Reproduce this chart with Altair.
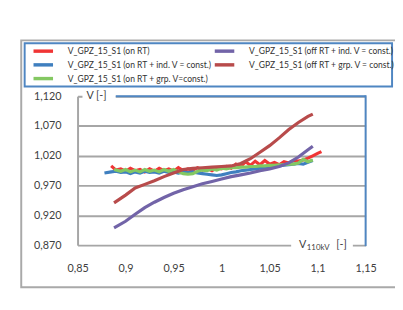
import altair as alt
import pandas as pd

series_names = [
    "V_GPZ_15_S1 (on RT)",
    "V_GPZ_15_S1 (on RT + ind. V = const.)",
    "V_GPZ_15_S1 (on RT + grp. V=const.)",
    "V_GPZ_15_S1 (off  RT + ind. V = const.)",
    "V_GPZ_15_S1 (off RT + grp. V = const.)",
]
series_colors = ["#f03535", "#3f7fbf", "#84c862", "#7264a8", "#b84b4b"]

x_ticks = [0.85, 0.9, 0.95, 1.0, 1.05, 1.1, 1.15]
y_ticks = [0.87, 0.92, 0.97, 1.02, 1.07, 1.12]

red_x = [0.885, 0.89, 0.895, 0.90, 0.905, 0.91, 0.915, 0.92, 0.925, 0.93, 0.935, 0.94,
         0.945, 0.95, 0.955, 0.96, 0.965, 0.97, 0.975, 0.98, 0.985, 0.99, 0.995, 1.00,
         1.005, 1.01, 1.015, 1.02, 1.025, 1.03, 1.035, 1.04, 1.045, 1.05, 1.055, 1.06,
         1.065, 1.07, 1.075, 1.08, 1.085, 1.09, 1.095, 1.10, 1.104]
red_y = [1.003, 0.996, 0.998, 0.994, 0.999, 0.995, 0.997, 0.993, 0.998, 0.994, 0.999, 0.995,
         0.998, 0.994, 1.000, 0.995, 0.998, 0.996, 1.000, 0.996, 0.999, 0.995, 1.000, 0.998,
         1.002, 0.999, 1.006, 1.002, 1.010, 1.004, 1.011, 1.005, 1.012, 1.006, 1.009, 1.005,
         1.010, 1.008, 1.012, 1.011, 1.013, 1.016, 1.020, 1.024, 1.027]

blue_x = [0.878, 0.885, 0.89, 0.895, 0.90, 0.905, 0.91, 0.915, 0.92, 0.925, 0.93, 0.935,
          0.94, 0.945, 0.95, 0.955, 0.96, 0.965, 0.97, 0.975, 0.98, 0.985, 0.99, 0.995,
          1.00, 1.005, 1.01, 1.015, 1.02, 1.025, 1.03, 1.035, 1.04, 1.045, 1.05, 1.055,
          1.06, 1.065, 1.07, 1.075, 1.08, 1.085, 1.09, 1.095]
blue_y = [0.991, 0.993, 0.994, 0.992, 0.993, 0.990, 0.993, 0.991, 0.994, 0.992, 0.993, 0.991,
          0.994, 0.992, 0.993, 0.991, 0.993, 0.992, 0.993, 0.991, 0.990, 0.989, 0.988, 0.987,
          0.988, 0.990, 0.992, 0.993, 0.995, 0.996, 0.997, 0.998, 0.999, 1.000, 1.001, 1.002,
          1.003, 1.004, 1.005, 1.006, 1.007, 1.006, 1.009, 1.012]

green_x = [0.888, 0.895, 0.90, 0.905, 0.91, 0.915, 0.92, 0.925, 0.93, 0.935, 0.94, 0.945,
           0.95, 0.955, 0.96, 0.965, 0.97, 0.975, 0.98, 0.985, 0.99, 0.995, 1.00, 1.005,
           1.01, 1.015, 1.02, 1.025, 1.03, 1.035, 1.04, 1.045, 1.05, 1.055, 1.06, 1.065,
           1.07, 1.075, 1.08, 1.085, 1.09, 1.095]
green_y = [0.997, 0.994, 0.997, 0.993, 0.996, 0.993, 0.997, 0.994, 0.996, 0.993, 0.997, 0.994,
           0.997, 0.993, 0.990, 0.989, 0.990, 0.994, 0.996, 0.995, 0.998, 0.996, 0.999, 0.998,
           1.000, 1.000, 1.001, 1.001, 1.002, 1.002, 1.003, 1.003, 1.004, 1.004, 1.005, 1.005,
           1.006, 1.006, 1.008, 1.014, 1.010, 1.013]

purple_x = [0.888, 0.90, 0.91, 0.92, 0.93, 0.94, 0.95, 0.96, 0.97, 0.98, 0.99, 1.00,
            1.01, 1.02, 1.03, 1.04, 1.05, 1.06, 1.07, 1.08, 1.09, 1.095]
purple_y = [0.899, 0.910, 0.922, 0.933, 0.942, 0.950, 0.957, 0.963, 0.968, 0.973, 0.977, 0.981,
            0.985, 0.988, 0.991, 0.995, 0.998, 1.002, 1.008, 1.018, 1.030, 1.036]

darkred_x = [0.888, 0.90, 0.91, 0.92, 0.93, 0.94, 0.95, 0.96, 0.97, 0.98, 0.99, 1.00,
             1.01, 1.02, 1.03, 1.04, 1.05, 1.06, 1.07, 1.08, 1.09, 1.095]
darkred_y = [0.941, 0.954, 0.966, 0.972, 0.978, 0.985, 0.991, 0.997, 0.999, 1.000, 1.001, 1.002,
             1.003, 1.007, 1.015, 1.026, 1.037, 1.050, 1.064, 1.076, 1.086, 1.090]

all_x = [red_x, blue_x, green_x, purple_x, darkred_x]
all_y = [red_y, blue_y, green_y, purple_y, darkred_y]

rows = []
for i, (xs, ys) in enumerate(zip(all_x, all_y)):
    for j, (xv, yv) in enumerate(zip(xs, ys)):
        rows.append({"series": series_names[i], "x": xv, "y": yv, "idx": j, "s": i})
df = pd.DataFrame(rows)

one = pd.DataFrame({"k": [0]})

W, H = 294, 152
GRAY = "#a6a6a6"
BLUE = "#4f86c2"
TXT = "#404040"
FONT = "Lato"

lines = alt.Chart(df).mark_line(strokeWidth=3.2).encode(
    x=alt.X("x:Q", scale=alt.Scale(domain=[0.85, 1.15], nice=False, zero=False),
            axis=alt.Axis(values=x_ticks, title=None, domain=False, ticks=False, grid=False,
                          labelExpr="replace(format(datum.value, '~g'), '.', ',')",
                          labelFont=FONT, labelFontSize=11, labelColor=TXT, labelPadding=18,
                          labelFlush=False)),
    y=alt.Y("y:Q", scale=alt.Scale(domain=[0.87, 1.12], nice=False, zero=False),
            axis=alt.Axis(values=y_ticks, title=None, ticks=False, grid=True,
                          gridColor=GRAY, gridWidth=2, domainColor=GRAY, domainWidth=2,
                          labelExpr="replace(format(datum.value, '.3f'), '.', ',')",
                          labelFont=FONT, labelFontSize=11, labelColor=TXT, labelPadding=17,
                          labelFlush=False)),
    color=alt.Color("series:N",
                    scale=alt.Scale(domain=series_names, range=series_colors),
                    legend=alt.Legend(orient="none", legendX=-42, legendY=-53, columns=2,
                                      title=None, symbolType="M-1.9,0H1.9", symbolSize=110,
                                      symbolStrokeWidth=3.5, labelFont=FONT, labelFontSize=8.7,
                                      labelColor="#333333", labelOffset=18, rowPadding=0,
                                      columnPadding=-5, padding=0, labelLimit=300)),
    detail="s:N",
    order="idx:Q",
)

outer_box = alt.Chart(one).mark_rect(filled=False, stroke="#a9a9a9", strokeWidth=2).encode(
    x=alt.value(-57.5), x2=alt.value(340), y=alt.value(-57), y2=alt.value(195))
legend_box = alt.Chart(one).mark_rect(filled=False, stroke=BLUE, strokeWidth=2).encode(
    x=alt.value(-54), x2=alt.value(321), y=alt.value(-54), y2=alt.value(-10))

gap_top = alt.Chart(one).mark_rect(color="white").encode(
    x=alt.value(5), x2=alt.value(39), y=alt.value(-3), y2=alt.value(3))
gap_bottom = alt.Chart(one).mark_rect(color="white").encode(
    x=alt.value(218), x2=alt.value(281), y=alt.value(H - 3), y2=alt.value(H + 3))

top_border = alt.Chart(one).mark_rule(color=BLUE, strokeWidth=2).encode(
    x=alt.value(39), x2=alt.value(W), y=alt.value(0))
right_border = alt.Chart(one).mark_rule(color=BLUE, strokeWidth=2).encode(
    x=alt.value(W), y=alt.value(-1), y2=alt.value(H + 1))

y_title = alt.Chart(one).mark_text(align="left", baseline="middle", font=FONT, fontSize=11,
                                   color=TXT).encode(
    x=alt.value(9), y=alt.value(0), text=alt.value("V [-]"))
x_title_v = alt.Chart(one).mark_text(align="left", baseline="middle", font=FONT, fontSize=11,
                                     color=TXT).encode(
    x=alt.value(226), y=alt.value(H), text=alt.value("V"))
x_title_sub = alt.Chart(one).mark_text(align="left", baseline="middle", font=FONT, fontSize=8,
                                       color=TXT).encode(
    x=alt.value(234), y=alt.value(H + 3), text=alt.value("110kV"))
x_title_unit = alt.Chart(one).mark_text(align="left", baseline="middle", font=FONT, fontSize=11,
                                        color=TXT).encode(
    x=alt.value(264), y=alt.value(H), text=alt.value("[-]"))

chart = alt.layer(
    outer_box, legend_box, lines, gap_top, gap_bottom, top_border, right_border,
    y_title, x_title_v, x_title_sub, x_title_unit
).properties(
    width=W, height=H,
    autosize=alt.AutoSizeParams(type="none"),
    padding={"left": 71, "top": 87, "right": 30, "bottom": 55},
).configure_view(strokeWidth=0).configure(background="white")

chart.save("out.html", embed_options={"renderer": "svg", "actions": False})
